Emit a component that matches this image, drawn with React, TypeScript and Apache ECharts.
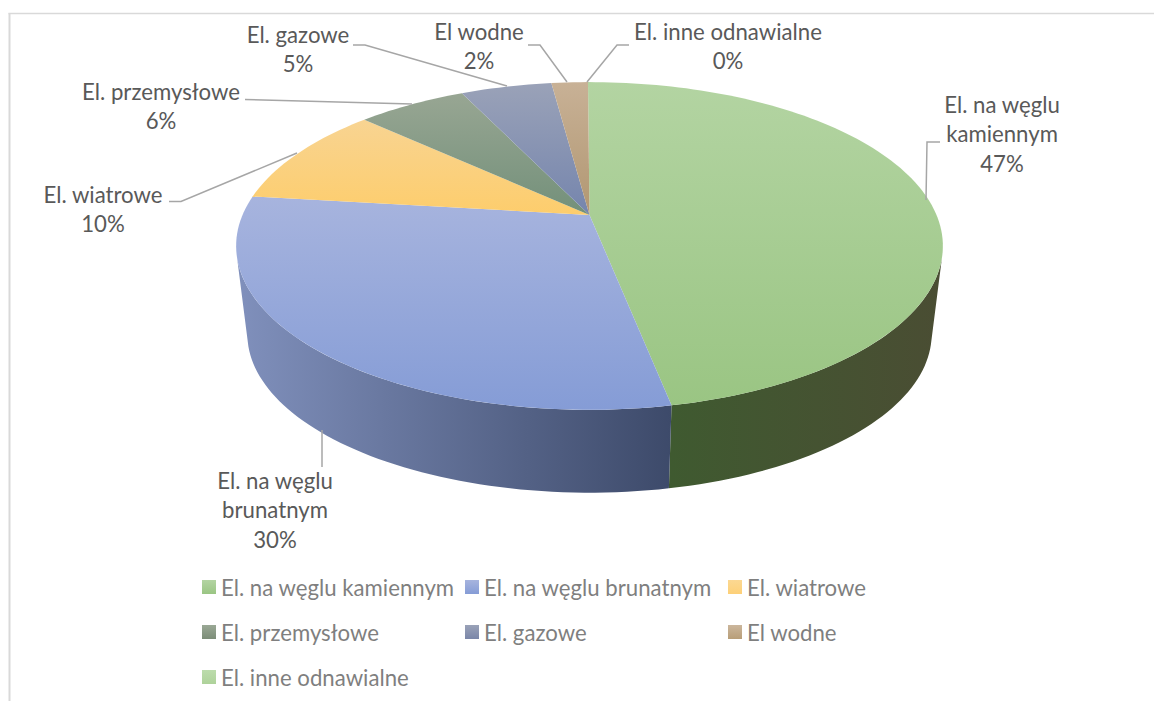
import React, { useEffect, useRef } from "react";
import * as echarts from "echarts";

const categories = [
  "El. na węglu kamiennym",
  "El. na węglu brunatnym",
  "El. wiatrowe",
  "El. przemysłowe",
  "El. gazowe",
  "El wodne",
  "El. inne odnawialne",
];
const values = [47, 30, 10, 6, 5, 2, 0];
const labelNames = [
  ["El. na węglu", "kamiennym"],
  ["El. na węglu", "brunatnym"],
  ["El. wiatrowe"],
  ["El. przemysłowe"],
  ["El. gazowe"],
  ["El wodne"],
  ["El. inne odnawialne"],
];
const topLight = ["#b3d4a2", "#a7b4de", "#f8d492", "#98a693", "#9aa2b8", "#c8b196", "#b9d9a8"];
const topDark = ["#9ac583", "#859cd6", "#fdcd6c", "#73907a", "#7585ad", "#b19772", "#b9d9a8"];
const legendLight = ["#b3d4a2", "#a7b4de", "#fbd892", "#9aa895", "#9aa2b8", "#cbb69c", "#bcdcac"];
const legendDark = ["#9ac583", "#859cd6", "#fdd078", "#7c8d78", "#7a86a8", "#b89e78", "#aed29a"];
const wallLeft = ["#3f5a30", "#8090bc", "", "", "", "", ""];
const wallRight = ["#4a4d33", "#3d4a6a", "", "", "", "", ""];

const labelAnchors = [
  [1002, 104],
  [275, 480],
  [103, 194],
  [161, 91],
  [298, 34],
  [479, 31],
  [728, 31],
];
const leaders = [
  [[940, 142], [927, 142], [926, 200]],
  [[322, 430], [322, 467]],
  [[169, 201.5], [181, 201.5], [297, 153]],
  [[245, 99.5], [412, 104]],
  [[353, 45], [365, 45], [507, 86]],
  [[528, 45], [540, 45], [567, 82]],
  [[629, 45], [617, 45], [587, 82]],
];
const legendSlots = [
  [202, 580], [465, 580], [728, 580],
  [202, 625], [465, 625], [728, 625],
  [202, 670],
];

const FONT = "Lato, Carlito, sans-serif";
const LABEL_SIZE = 22.2;
const LINE_H = 29.5;

// projection of the tilted disc
const CX = 589.5;
const PERSP = 0.189;
const ROTATION = -0.3;
const WALL_FROM = 105;
const WALL_TO = 255;
const TOP_PLANE = { r: 347, k: 158, y: 215 };
const LOW_PLANE = { r: 336, k: 153, y: 304 };
const total = values.reduce((a, b) => a + b, 0);

function project(plane: { r: number; k: number; y: number }, deg: number) {
  const t = ((deg + ROTATION) * Math.PI) / 180;
  const d = 1 + PERSP * Math.cos(t);
  return [CX + (plane.r * Math.sin(t)) / d, plane.y - (plane.k * Math.cos(t)) / d];
}
function arc(plane: { r: number; k: number; y: number }, a: number, b: number) {
  const n = Math.max(2, Math.ceil(Math.abs(b - a) / 1.5));
  const pts: number[][] = [];
  for (let i = 0; i <= n; i++) pts.push(project(plane, a + ((b - a) * i) / n));
  return pts;
}
const vGrad = (c1: string, c2: string) =>
  new echarts.graphic.LinearGradient(0, 0, 0, 1, [
    { offset: 0, color: c1 },
    { offset: 1, color: c2 },
  ]);

function makeSeries(index: number) {
  const before = values.slice(0, index).reduce((a, b) => a + b, 0);
  return {
    type: "custom",
    name: categories[index],
    coordinateSystem: "none",
    silent: true,
    z: 2,
    itemStyle: { color: vGrad(legendLight[index], legendDark[index]) },
    data: [[values[index]]],
    renderItem: (_p: any, api: any) => {
      const v = api.value(0) as number;
      if (!v) return { type: "group", children: [] };
      const a = (before / total) * 360;
      const b = ((before + v) / total) * 360;
      const children: any[] = [];
      const wa = Math.max(a, WALL_FROM);
      const wb = Math.min(b, WALL_TO);
      if (wb > wa) {
        const upper = arc(TOP_PLANE, wa, wb);
        const lower = arc(LOW_PLANE, wa, wb).reverse();
        const xs = upper.concat(lower).map((p) => p[0]);
        const x0 = Math.min(...xs);
        const x1 = Math.max(...xs);
        children.push({
          type: "polygon",
          shape: { points: upper.concat(lower) },
          style: {
            fill: new echarts.graphic.LinearGradient(x0, 0, x1, 0, [
              { offset: 0, color: wallLeft[index] },
              { offset: 1, color: wallRight[index] },
            ], true),
          },
        });
      }
      children.push({
        type: "polygon",
        shape: { points: [project({ r: 0, k: 0, y: TOP_PLANE.y }, 0), ...arc(TOP_PLANE, a, b)] },
        style: { fill: vGrad(topLight[index], topDark[index]) },
      });
      return { type: "group", children };
    },
  };
}

function buildGraphic() {
  const els: any[] = [
    { type: "line", shape: { x1: 9.5, y1: 13, x2: 9.5, y2: 701 }, style: { stroke: "#d9d9d9", lineWidth: 2 } },
    { type: "line", shape: { x1: 8.5, y1: 13.5, x2: 1154, y2: 13.5 }, style: { stroke: "#d9d9d9", lineWidth: 1.6 } },
  ];
  leaders.forEach((pts) => {
    els.push({
      type: "polyline",
      z: 10,
      shape: { points: pts },
      style: { stroke: "#a6a6a6", lineWidth: 1.5, fill: "none" },
    });
  });
  categories.forEach((_c, i) => {
    const lines = [...labelNames[i], `${values[i]}%`];
    lines.forEach((t, j) => {
      els.push({
        type: "text",
        z: 10,
        x: labelAnchors[i][0],
        y: labelAnchors[i][1] + j * LINE_H,
        style: {
          text: t,
          fill: "#595959",
          font: `${LABEL_SIZE}px ${FONT}`,
          textAlign: "center",
          textVerticalAlign: "middle",
        },
      });
    });
  });
  return els;
}

export default function App() {
  const ref = useRef<HTMLDivElement>(null);
  useEffect(() => {
    const chart = echarts.init(ref.current!, undefined, { renderer: "svg" });
    chart.setOption({
      animation: false,
      backgroundColor: "#ffffff",
      legend: categories.map((name, i) => ({
        data: [name],
        left: legendSlots[i][0],
        top: legendSlots[i][1] - 4,
        padding: 0,
        itemWidth: 14,
        itemHeight: 14,
        selectedMode: false,
        icon: "rect",
        textStyle: { color: "#7f7f7f", fontFamily: FONT, fontSize: LABEL_SIZE },
      })),
      series: categories.map((_c, i) => makeSeries(i)),
      graphic: { elements: buildGraphic() },
    });
    return () => chart.dispose();
  }, []);
  return <div ref={ref} style={{ position: "fixed", left: 0, top: 0, width: 1154, height: 701 }} />;
}
